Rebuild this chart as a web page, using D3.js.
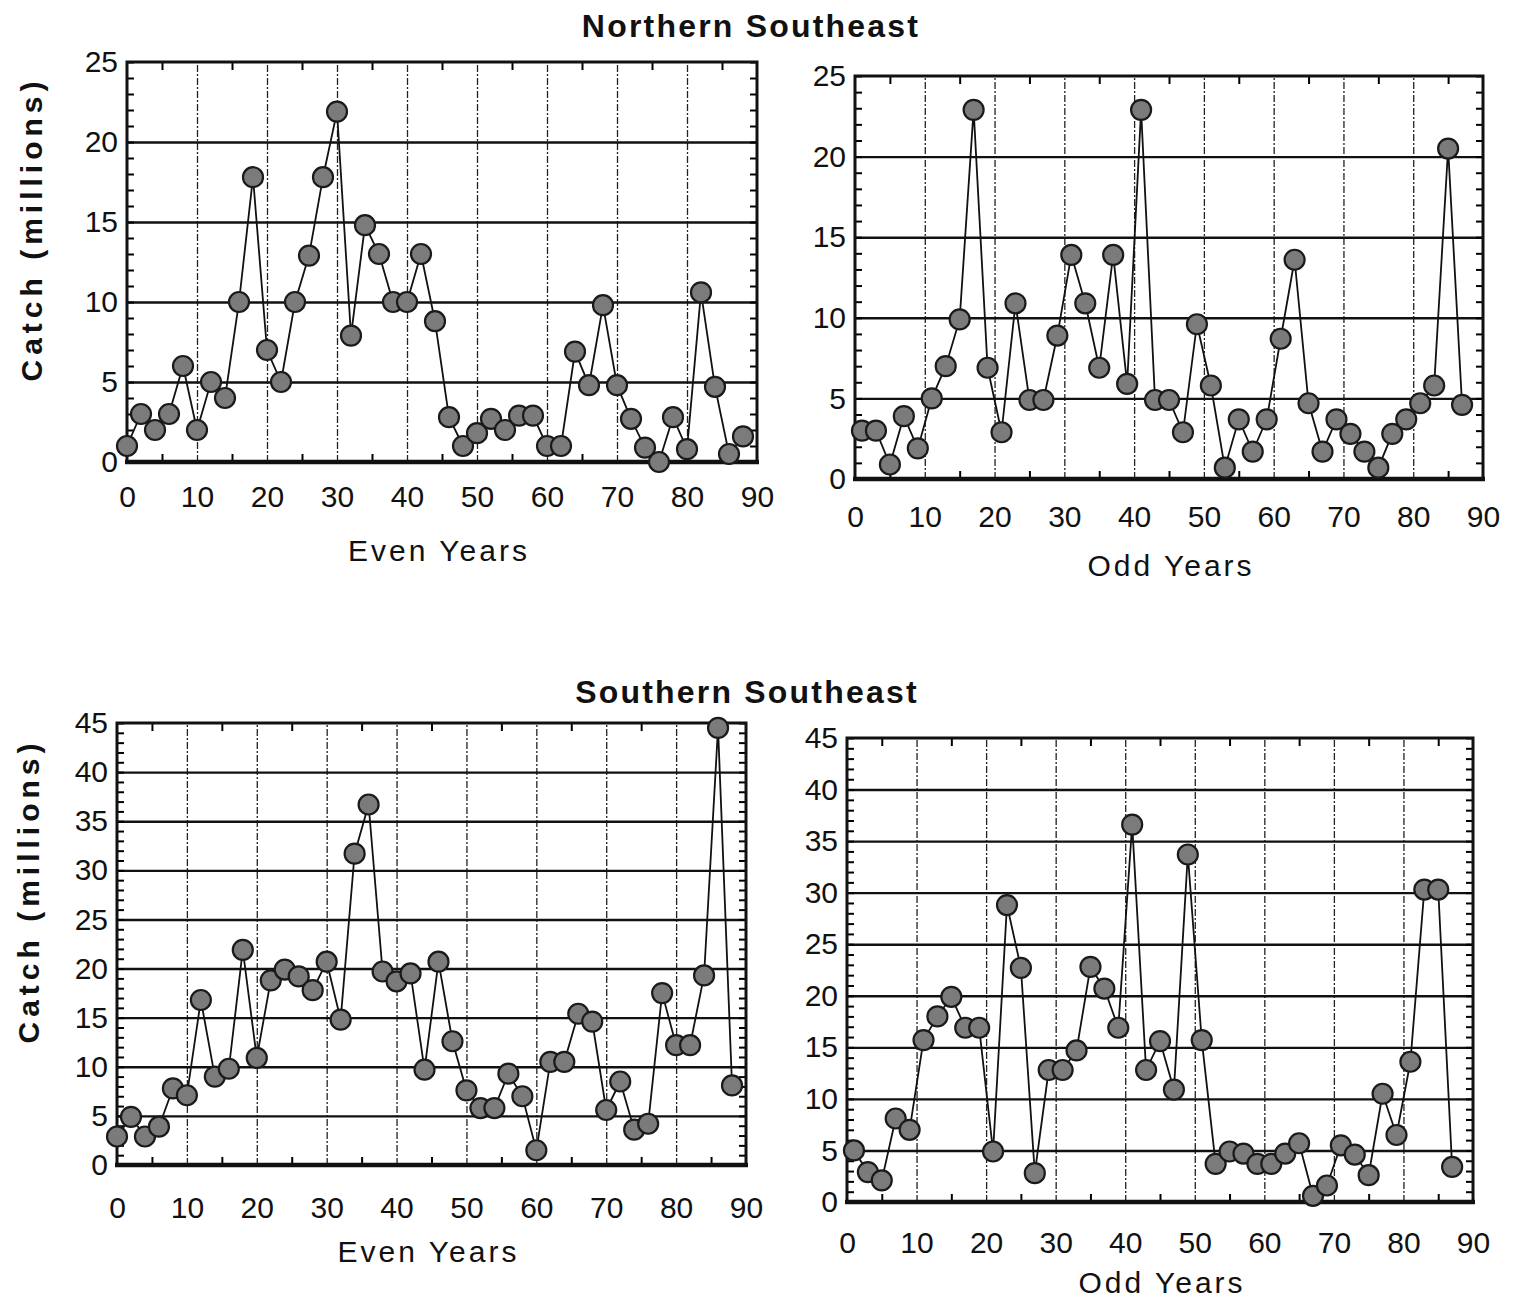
<!DOCTYPE html>
<html>
<head>
<meta charset="utf-8">
<script src="https://cdn.jsdelivr.net/npm/d3@7"></script>
<style>
  body { margin: 0; background: #fff; }
  text { font-family: "Liberation Sans", Arial, sans-serif; fill: #111; }
  .tick text { font-size: 30px; }
  .title { font-size: 32px; font-weight: bold; letter-spacing: 2.2px; }
  .ylab { font-size: 30px; font-weight: bold; letter-spacing: 5px; }
  .xlab { font-size: 30px; letter-spacing: 3px; }
</style>
</head>
<body>
<svg id="chart" width="1515" height="1301"></svg>
<script>
// catch in millions
const evenYears = d3.range(0, 89, 2);
const oddYears = d3.range(1, 88, 2);

const northEven = [1.0, 3.0, 2.0, 3.0, 6.0, 2.0, 5.0, 4.0, 10.0, 17.8, 7.0, 5.0, 10.0, 12.9, 17.8,
  21.9, 7.9, 14.8, 13.0, 10.0, 10.0, 13.0, 8.8, 2.8, 1.0, 1.8, 2.7, 2.0, 2.9, 2.9,
  1.0, 1.0, 6.9, 4.8, 9.8, 4.8, 2.7, 0.9, 0.0, 2.8, 0.8, 10.6, 4.7, 0.5, 1.6];
const northOdd = [3.0, 3.0, 0.9, 3.9, 1.9, 5.0, 7.0, 9.9, 22.9, 6.9, 2.9, 10.9, 4.9, 4.9, 8.9,
  13.9, 10.9, 6.9, 13.9, 5.9, 22.9, 4.9, 4.9, 2.9, 9.6, 5.8, 0.7, 3.7, 1.7, 3.7,
  8.7, 13.6, 4.7, 1.7, 3.7, 2.8, 1.7, 0.7, 2.8, 3.7, 4.7, 5.8, 20.5, 4.6];
const southEven = [2.9, 4.9, 2.9, 3.9, 7.8, 7.1, 16.8, 9.0, 9.8, 21.9, 10.9, 18.8, 19.9, 19.2, 17.8,
  20.7, 14.8, 31.7, 36.7, 19.7, 18.7, 19.5, 9.7, 20.7, 12.6, 7.6, 5.8, 5.8, 9.3, 7.0,
  1.5, 10.5, 10.5, 15.4, 14.6, 5.6, 8.5, 3.6, 4.2, 17.5, 12.2, 12.2, 19.3, 44.5, 8.1];
const southOdd = [5.0, 2.9, 2.1, 8.1, 7.0, 15.7, 18.0, 19.9, 16.9, 16.9, 4.9, 28.8, 22.7, 2.8, 12.8,
  12.8, 14.7, 22.8, 20.7, 16.9, 36.6, 12.8, 15.6, 10.9, 33.7, 15.7, 3.7, 4.9, 4.7, 3.7,
  3.7, 4.7, 5.7, 0.6, 1.6, 5.5, 4.6, 2.6, 10.5, 6.5, 13.6, 30.3, 30.3, 3.4];

const xTickLabels = [0, 10, 20, 30, 40, 50, 60, 70, 80, 90];
const northYTicks = [0, 5, 10, 15, 20, 25];
const southYTicks = [0, 5, 10, 15, 20, 25, 30, 35, 40, 45];
const titles = ["Northern Southeast", "Southern Southeast"];
const yTitle = "Catch (millions)";

let svg = d3.select('#chart');

let panels = [
  {left: 127, top: 62,  w: 630, h: 400, years: evenYears, vals: northEven, yTicks: northYTicks, xlab: "Even Years", tickPad: 24, labBase: 99},
  {left: 855, top: 76,  w: 628, h: 403, years: oddYears,  vals: northOdd,  yTicks: northYTicks, xlab: "Odd Years",  tickPad: 27, labBase: 97},
  {left: 117, top: 723, w: 629, h: 442, years: evenYears, vals: southEven, yTicks: southYTicks, xlab: "Even Years", tickPad: 32, labBase: 97},
  {left: 847, top: 738, w: 626, h: 464, years: oddYears,  vals: southOdd,  yTicks: southYTicks, xlab: "Odd Years",  tickPad: 30, labBase: 91}
];

panels.forEach(drawPanel);

// titles
svg.append('text').attr('class', 'title').attr('x', 751).attr('y', 37)
  .style('text-anchor', 'middle').text(titles[0]);
svg.append('text').attr('class', 'title').attr('x', 747).attr('y', 703)
  .style('text-anchor', 'middle').text(titles[1]);

// y axis titles
svg.append('text').attr('class', 'ylab')
  .attr('transform', 'translate(42,229) rotate(-90)')
  .style('text-anchor', 'middle').text(yTitle);
svg.append('text').attr('class', 'ylab')
  .attr('transform', 'translate(39,891) rotate(-90)')
  .style('text-anchor', 'middle').text(yTitle);

function drawPanel(p) {
  let ymax = p.yTicks[p.yTicks.length - 1];
  let x = d3.scaleLinear().domain([0, 90]).range([0, p.w]);
  let y = d3.scaleLinear().domain([0, ymax]).range([p.h, 0]);

  let g = svg.append('g').attr('transform', `translate(${p.left},${p.top})`);

  // vertical grid, broken lines
  g.append('g')
    .attr('transform', `translate(0,${p.h})`)
    .call(d3.axisBottom(x).tickValues(d3.range(10, 90, 10)).tickSize(-p.h).tickFormat(''))
    .call(a => a.select('.domain').remove())
    .selectAll('line').attr('stroke', '#222').attr('stroke-width', 1.3).attr('stroke-dasharray', '7,2,2,2');

  // horizontal grid
  g.append('g')
    .call(d3.axisLeft(y).tickValues(p.yTicks.slice(1, -1)).tickSize(-p.w).tickFormat(''))
    .call(a => a.select('.domain').remove())
    .selectAll('line').attr('stroke', '#111').attr('stroke-width', 2.4);

  // minor ticks on left and right
  let minor = d3.range(0, ymax + 1, 1);
  g.append('g')
    .call(d3.axisLeft(y).tickValues(minor).tickSize(-7).tickFormat(''))
    .call(a => a.select('.domain').remove())
    .selectAll('line').attr('stroke-width', 2);
  g.append('g')
    .attr('transform', `translate(${p.w},0)`)
    .call(d3.axisRight(y).tickValues(minor).tickSize(-7).tickFormat(''))
    .call(a => a.select('.domain').remove())
    .selectAll('line').attr('stroke-width', 2);

  // mid-decade ticks top and bottom
  let mid = d3.range(5, 90, 10);
  g.append('g')
    .attr('transform', `translate(0,${p.h})`)
    .call(d3.axisBottom(x).tickValues(mid).tickSize(-8).tickFormat(''))
    .call(a => a.select('.domain').remove())
    .selectAll('line').attr('stroke-width', 2);
  g.append('g')
    .call(d3.axisTop(x).tickValues(mid).tickSize(-8).tickFormat(''))
    .call(a => a.select('.domain').remove())
    .selectAll('line').attr('stroke-width', 2);

  // frame
  g.append('rect')
    .attr('width', p.w).attr('height', p.h)
    .attr('fill', 'none').attr('stroke', '#111').attr('stroke-width', 3);
  g.append('line')
    .attr('x1', -2).attr('x2', p.w + 2).attr('y1', p.h).attr('y2', p.h)
    .attr('stroke', '#111').attr('stroke-width', 4.5);

  // tick labels
  g.append('g')
    .call(d3.axisLeft(y).tickValues(p.yTicks).tickSize(0).tickPadding(9))
    .call(a => a.select('.domain').remove());
  g.append('g')
    .attr('transform', `translate(0,${p.h})`)
    .call(d3.axisBottom(x).tickValues(xTickLabels).tickSize(0).tickPadding(p.tickPad))
    .call(a => a.select('.domain').remove());
  g.selectAll('.tick text').attr('font-family', null).attr('font-size', null);

  // x axis title
  g.append('text').attr('class', 'xlab')
    .attr('x', p.w / 2 + (p.left < 500 ? -3 : 2)).attr('y', p.h + p.labBase)
    .style('text-anchor', 'middle').text(p.xlab);

  let pts = p.years.map((yr, i) => ({yr: yr, v: p.vals[i]}));

  let line = d3.line().x(d => x(d.yr)).y(d => y(d.v));
  g.append('path')
    .datum(pts)
    .attr('d', line)
    .attr('fill', 'none')
    .attr('stroke', '#111')
    .attr('stroke-width', 1.8);

  g.selectAll('circle.pt')
    .data(pts).enter()
    .append('circle')
      .attr('class', 'pt')
      .attr('cx', d => x(d.yr))
      .attr('cy', d => y(d.v))
      .attr('r', 10)
      .attr('fill', '#7b7b7b')
      .attr('stroke', '#1a1a1a')
      .attr('stroke-width', 2.2);
}
</script>
</body>
</html>
